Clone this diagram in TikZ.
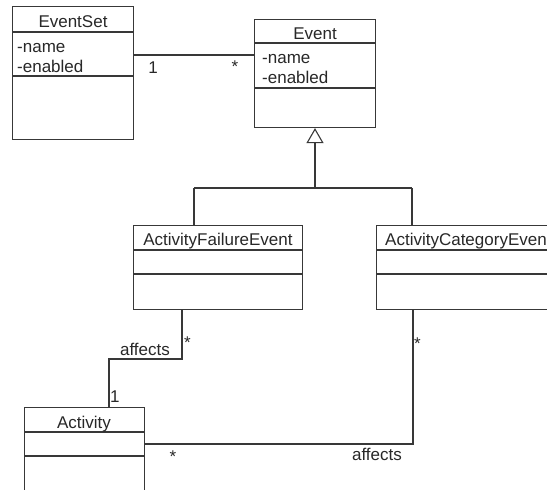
\documentclass[tikz,border=0pt]{standalone}
\usepackage{fontspec}
\setmainfont{Liberation Sans}
\usetikzlibrary{arrows.meta}
\definecolor{umlline}{HTML}{383838}
\definecolor{umltext}{HTML}{282828}
\tikzset{
  classbox/.style={draw=umlline, line width=1.1pt, rectangle, inner sep=0pt, anchor=north west},
  sep/.style={draw=umlline, line width=1.1pt},
  assoc/.style={draw=umlline, line width=1.1pt},
  title/.style={text=umltext, font=\fontsize{17}{20}\selectfont, inner sep=0pt, anchor=base},
  attr/.style={text=umltext, font=\fontsize{17}{20}\selectfont, inner sep=0pt, anchor=base west},
  mult/.style={text=umltext, font=\fontsize{17}{20}\selectfont, inner sep=0pt, anchor=base},
  gen/.style={draw=umlline, line width=1.1pt, -{Triangle[open, length=15pt, width=17pt, line width=1.1pt]}}
}
\begin{document}
\begin{tikzpicture}[x=1pt, y=-1pt]
  \useasboundingbox (0,0) rectangle (547,490);
  \fill[white] (0,0) rectangle (547,490);
  \clip (0,0) rectangle (547,490);

  % class boxes
  \node[classbox, minimum width=121pt, minimum height=133pt] (EventSet) at (12,6) {};
  \node[classbox, minimum width=121pt, minimum height=108pt] (Event) at (254,19) {};
  \node[classbox, minimum width=169pt, minimum height=84pt] (AFE) at (133,225) {};
  \node[classbox, minimum width=190pt, minimum height=84pt] (ACE) at (376,225) {};
  \node[classbox, minimum width=120pt, minimum height=100pt] (Activity) at (24,407) {};

  % compartment separators
  \draw[sep] (EventSet.west |- 0,32) -- (EventSet.east |- 0,32);
  \draw[sep] (EventSet.west |- 0,76) -- (EventSet.east |- 0,76);
  \draw[sep] (Event.west |- 0,43) -- (Event.east |- 0,43);
  \draw[sep] (Event.west |- 0,88) -- (Event.east |- 0,88);
  \draw[sep] (AFE.west |- 0,250) -- (AFE.east |- 0,250);
  \draw[sep] (AFE.west |- 0,274) -- (AFE.east |- 0,274);
  \draw[sep] (ACE.west |- 0,250) -- (ACE.east |- 0,250);
  \draw[sep] (ACE.west |- 0,274) -- (ACE.east |- 0,274);
  \draw[sep] (Activity.west |- 0,432) -- (Activity.east |- 0,432);
  \draw[sep] (Activity.west |- 0,456) -- (Activity.east |- 0,456);

  % class names and attributes
  \node[title] (tEventSet) at (73,27) {EventSet};
  \node[attr] (aEventSet1) at (17,52) {-name};
  \node[attr] (aEventSet2) at (17,72) {-enabled};
  \node[title] (tEvent) at (315,39) {Event};
  \node[attr] (aEvent1) at (262,63) {-name};
  \node[attr] (aEvent2) at (262,83) {-enabled};
  \node[title] (tAFE) at (218,245) {ActivityFailureEvent};
  \node[title, anchor=base west] (tACE) at (385,245) {ActivityCategoryEvent};
  \node[title] (tActivity) at (84,428) {Activity};

  % generalization
  \coordinate (genJ) at (315,188);
  \coordinate (genL) at (194,188);
  \coordinate (genR) at (412,188);
  \draw[assoc] (genL) -- (genR);
  \draw[assoc] (genL) -- (genL |- AFE.north);
  \draw[assoc] (genR) -- (genR |- ACE.north);
  \draw[gen] (genJ) -- (Event.south -| genJ);

  % EventSet -- Event
  \draw[assoc] (EventSet.east |- 0,55) -- (Event.west |- 0,55);
  \node[mult] (m1) at (153,73) {1};
  \node[mult] (m2) at (235,72) {*};

  % ActivityFailureEvent -- Activity
  \coordinate (b1) at (182,359);
  \coordinate (b2) at (109,359);
  \draw[assoc] (AFE.south -| b1) -- (b1) -- (b2) -- (Activity.north -| b2);
  \node[title] (lAffects1) at (145,355) {affects};
  \node[mult, anchor=base west] (m3) at (184,348) {*};
  \node[mult, anchor=base west] (m4) at (110,402) {1};

  % ActivityCategoryEvent -- Activity
  \coordinate (c1) at (413,444);
  \draw[assoc] (Activity.east |- c1) -- (c1) -- (ACE.south -| c1);
  \node[title] (lAffects2) at (377,460) {affects};
  \node[mult, anchor=base west] (m5) at (414,349) {*};
  \node[mult] (m6) at (173,462) {*};
\end{tikzpicture}
\end{document}
